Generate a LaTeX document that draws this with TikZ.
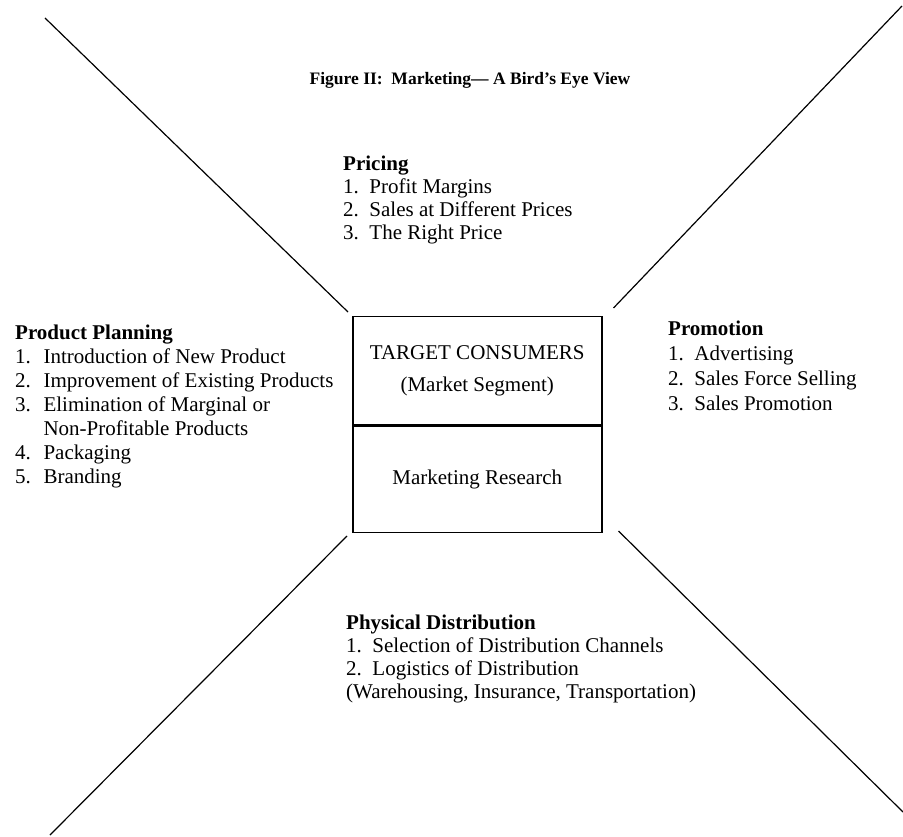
\documentclass[tikz,border=0pt]{standalone}
\usepackage{fontspec}
\setmainfont{Liberation Serif}
\usetikzlibrary{positioning}

\tikzset{
  textblock/.style={align=left, anchor=north west, inner sep=0pt, font=\fontsize{21}{23}\selectfont},
  cell/.style={draw, line width=1.5pt, minimum width=249pt, inner sep=0pt, font=\fontsize{21}{23}\selectfont, align=center},
  ray/.style={line width=1.2pt}
}
\newcommand{\itm}[2][0.5em]{#2.\hspace{#1}}

\begin{document}
\begin{tikzpicture}[x=1pt,y=-1pt]
\useasboundingbox (0,0) rectangle (903,837);

\node[font=\fontsize{17.5}{20}\selectfont\bfseries] at (470,80) (title) {Figure II:\ \ Marketing--- A Bird's Eye View};

\node[cell, minimum height=108pt, anchor=north west] at (352,316) (target) {TARGET CONSUMERS\\[9pt](Market Segment)};
\node[cell, minimum height=106pt, below=0pt of target] (research) {Marketing Research};

\node[textblock] at (343,156) (pricing) {\textbf{Pricing}\\
\itm{1}Profit Margins\\
\itm{2}Sales at Different Prices\\
\itm{3}The Right Price};

\node[textblock, font=\fontsize{21}{24}\selectfont] at (15,325) (planning) {\textbf{Product Planning}\\
\itm[0.6em]{1}Introduction of New Product\\
\itm[0.6em]{2}Improvement of Existing Products\\
\itm[0.6em]{3}Elimination of Marginal or\\
\phantom{\itm[0.6em]{3}}Non-Profitable Products\\
\itm[0.6em]{4}Packaging\\
\itm[0.6em]{5}Branding};

\node[textblock, font=\fontsize{21}{25}\selectfont] at (668,321) (promotion) {\textbf{Promotion}\\
\itm{1}Advertising\\
\itm{2}Sales Force Selling\\
\itm{3}Sales Promotion};

\node[textblock] at (346,615) (distribution) {\textbf{Physical Distribution}\\
\itm{1}Selection of Distribution Channels\\
\itm{2}Logistics of Distribution\\
(Warehousing, Insurance, Transportation)};

\coordinate (tl) at (45,18);
\coordinate (tr) at (902,6);
\coordinate (bl) at (50,835);
\coordinate (br) at (903,812);

\draw[ray] (tl) -- ([xshift=-4pt,yshift=4pt]target.north west);
\draw[ray] (tr) -- ([xshift=11pt,yshift=8pt]target.north east);
\draw[ray] (bl) -- ([xshift=-5pt,yshift=-3pt]research.south west);
\draw[ray] (br) -- ([xshift=16pt,yshift=2pt]research.south east);
\end{tikzpicture}
\end{document}
